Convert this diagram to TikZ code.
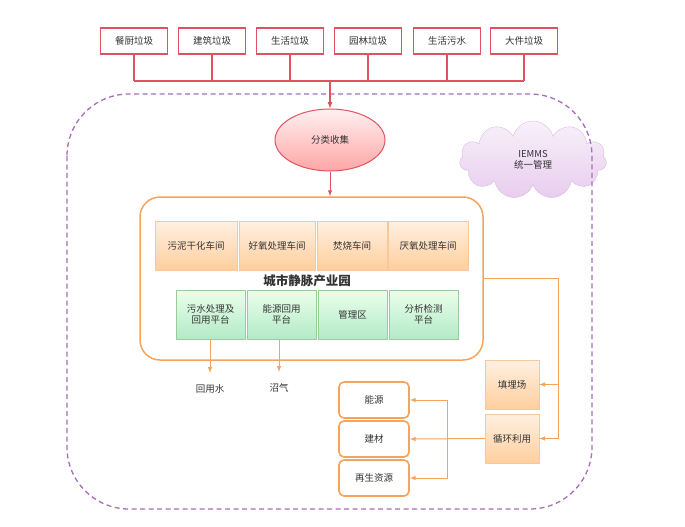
\documentclass[tikz,border=0pt]{standalone}
\usepackage{fontspec}
\setmainfont{Noto Sans CJK SC}
\usetikzlibrary{arrows, shapes, shapes.symbols, positioning, calc}

\definecolor{redline}{HTML}{E05262}
\definecolor{orangeline}{HTML}{F4A45C}
\definecolor{purpleline}{HTML}{A96DBB}
\definecolor{txt}{HTML}{333333}
\definecolor{cloudtop}{HTML}{F8F0FA}
\definecolor{cloudbot}{HTML}{E8CDEE}

\begin{document}
\begin{tikzpicture}[x=1pt,y=-1pt,font=\fontsize{9.5}{11}\selectfont,text=txt]
  \tikzstyle{source} = [rectangle,draw=redline,line width=1.4pt,fill=white,minimum width=67pt,minimum height=26pt]
  \tikzstyle{bus} = [draw=redline,line width=1.2pt]
  \tikzstyle{shop} = [rectangle,draw=orangeline!60,top color=orange!12,bottom color=orange!38,minimum height=49pt,inner sep=1pt]
  \tikzstyle{platform} = [rectangle,draw=green!35!gray!60,top color=green!8,bottom color=green!45!teal!30,minimum width=69pt,minimum height=49pt,align=center,inner sep=1pt]
  \tikzstyle{product} = [rectangle,rounded corners=5pt,draw=orangeline,line width=1.6pt,fill=white,minimum width=70pt,minimum height=36pt]
  \tikzstyle{flow} = [->, >=latex, draw=orangeline, line width=1pt]
  \useasboundingbox (0,0) rectangle (685,527);

  % sources
  \node[source] at (134,41) (cc) {餐厨垃圾};
  \node[source] at (212,41) (jz) {建筑垃圾};
  \node[source] at (290,41) (sh) {生活垃圾};
  \node[source] at (368,41) (yl) {园林垃圾};
  \node[source] at (447,41) (ws) {生活污水};
  \node[source] at (524,41) (dj) {大件垃圾};
  \coordinate (hub) at (330,81);

  % cloud and management area
  \node[cloud,cloud puffs=11,aspect=1.9,draw=purpleline!45,top color=cloudtop,bottom color=cloudbot,minimum width=147pt,minimum height=78pt,align=center,inner sep=0pt] at (533,160) (iemms) {IEMMS\\统一管理};
  \draw[purpleline,line width=1.3pt,dash pattern=on 5pt off 3.5pt,rounded corners=62pt] (67,94) rectangle (592,509);

  % collection
  \node[ellipse,draw=redline,line width=1pt,top color=red!6,bottom color=red!35,minimum width=110pt,minimum height=62pt] at (330,140) (fl) {分类收集};
  \foreach \s in {cc,jz,sh,yl,ws,dj}
    \draw[bus] (\s.south) -- (\s.south |- hub);
  \draw[bus] (cc.south |- hub) -- (dj.south |- hub);
  \draw[bus,->,>=latex] (hub) -- (fl.north);

  % industrial park
  \node[rectangle,rounded corners=20pt,draw=orangeline,line width=1.5pt,minimum width=343pt,minimum height=163pt] at (311.5,278.5) (park) {};
  \draw[redline,line width=1pt,->,>=latex] (fl.south) -- (park.north -| fl.south);
  \node[shop,minimum width=82pt] at (196,245.5) (wn) {污泥干化车间};
  \node[shop,minimum width=76pt] at (277,245.5) (hy) {好氧处理车间};
  \node[shop,minimum width=70pt] at (352,245.5) (fs) {焚烧车间};
  \node[shop,minimum width=80pt] at (428,245.5) (yy) {厌氧处理车间};
  \node[font=\fontsize{12.5}{14}\selectfont\bfseries] at (307,281) (title) {城市静脉产业园};
  \node[platform] at (210.5,314.5) (wc) {污水处理及\\回用平台};
  \node[platform] at (281.5,314.5) (ny) {能源回用\\平台};
  \node[platform] at (352.5,314.5) (gl) {管理区};
  \node[platform] at (423.5,314.5) (fx) {分析检测\\平台};

  \node at (210,389) (hys) {回用水};
  \node at (279,388) (zq) {沼气};
  \draw[flow] (wc.south -| hys) -- ([yshift=16pt]hys.center);
  \draw[flow] (ny.south -| zq) -- ([yshift=16pt]zq.center);

  % landfill and recycling
  \node[shop,minimum width=54pt] at (512,384.5) (tm) {填埋场};
  \node[shop,minimum width=54pt] at (512,438.5) (xh) {循环利用};
  \coordinate (rt) at (558,278.5);
  \draw[orangeline,line width=1pt] (park.east) -- (rt) -- (rt |- xh.east);
  \draw[flow] (rt |- tm.east) -- (tm.east);
  \draw[flow] (rt |- xh.east) -- (xh.east);

  % products
  \node[product] at (374,400) (nyuan) {能源};
  \node[product] at (374,439) (jc) {建材};
  \node[product] at (374,478) (zs) {再生资源};
  \coordinate (vj) at (447,438.5);
  \draw[flow] (xh.west) -- (jc.east);
  \draw[flow] (vj) |- (nyuan.east);
  \draw[flow] (vj) |- (zs.east);
\end{tikzpicture}
\end{document}
